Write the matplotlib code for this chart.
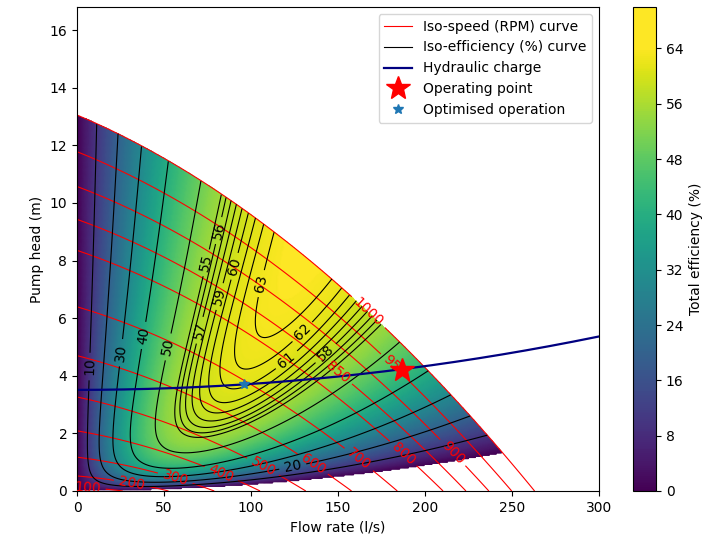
import numpy as np
import matplotlib.pyplot as plt
from matplotlib.colors import ListedColormap
from matplotlib.lines import Line2D

# pump curve H = a0*N^2 + a1*N*Q + a2*Q^2  (Q in l/s, N in rpm)
a0 = 1.305e-5
a1 = -2.539e-5
a2 = -9.215e-5
n_max = 1000

# hydraulic charge H = h_static + k_sys*Q^2
h_static = 3.51
k_sys = 2.06e-5

# efficiency map parameters
eta_peak = 64.2     # % at full speed, best flow
q_zero = 244.7      # l/s per 1000 rpm where pump efficiency drops to 0
q_skew = 845.0
motor_c = 0.022
cbar_max = 70

speed_levels = [100, 200, 300, 400, 500, 600, 700, 800, 850, 900, 950, 1000]
eff_levels = [10, 20, 30, 40, 50, 55, 56, 57, 58, 59, 60, 61, 62, 63]

op_point = (187, 4.21)
opt_point = (96, 3.72)

# where each contour label sits (Q, H)
speed_label_pos = {100: (6, 0.2), 200: (32, 0.38), 300: (57, 0.5), 400: (83, 0.63),
                   500: (107, 0.83), 600: (136, 0.97), 700: (163, 1.18), 800: (188, 1.32),
                   850: (150, 4.1), 900: (219, 1.5), 950: (186, 4.55), 1000: (170, 6.4)}
eff_label_pos = {10: (8.6, 4.3), 20: (124, 0.83), 30: (25, 4.8), 40: (39, 5.4), 50: (52, 5.0),
                 55: (75, 7.9), 56: (83, 9.0), 57: (69.5, 5.6), 58: (148, 4.45), 59: (81, 6.75),
                 60: (91, 7.8), 61: (122, 4.45), 62: (134, 5.25), 63: (107, 7.2)}


def snap(cs, levels, wanted):
    # put each wanted label exactly on its own level's line
    pts = []
    for i, lvl in enumerate(levels):
        if lvl not in wanted:
            continue
        segs = [s for s in cs.allsegs[i] if len(s)]
        if not segs:
            continue
        v = np.vstack(segs)
        q0, h0 = wanted[lvl]
        d = ((v[:, 0] - q0) / 300 * 522) ** 2 + ((v[:, 1] - h0) / 16.8 * 484) ** 2
        pts.append(tuple(v[np.argmin(d)]))
    return pts


# grid
Q = np.linspace(0, 300, 601)
H = np.linspace(0, 16.8, 421)
QQ, HH = np.meshgrid(Q, H)

disc = (a1 * QQ) ** 2 - 4 * a0 * (a2 * QQ ** 2 - HH)
NN = (-a1 * QQ + np.sqrt(disc)) / (2 * a0)

with np.errstate(divide='ignore', invalid='ignore'):
    x = QQ / (NN / 1000.0)
    f = x * (q_zero - x) * (x + q_skew)
    xs = np.linspace(0, q_zero, 2000)
    fmax = np.max(xs * (q_zero - xs) * (xs + q_skew))
    load = (NN / n_max) ** 3
    g = load * (1 + motor_c) / (load + motor_c)
    eff = eta_peak * f / fmax * g

eff = np.where((NN > n_max + 0.5) | ~(eff > 0), np.nan, eff)
eff_m = np.ma.masked_invalid(eff)

# viridis over 0..max of the map, flat yellow above it
cmap = ListedColormap(plt.cm.viridis(np.clip(np.linspace(0, cbar_max, 256) / eta_peak, 0, 1)))

fig = plt.figure(figsize=(7.17, 5.54), dpi=100)
ax = fig.add_axes([77 / 717, 63 / 554, 522 / 717, 484 / 554])
cax = fig.add_axes([633 / 717, 63 / 554, 23 / 717, 484 / 554])

mesh = ax.pcolormesh(Q, H, eff_m, cmap=cmap, shading='gouraud', vmin=0, vmax=cbar_max)

cs_n = ax.contour(QQ, HH, NN, levels=speed_levels, colors='red', linewidths=0.8)
ax.clabel(cs_n, fontsize=10, inline=True, manual=snap(cs_n, speed_levels, speed_label_pos))

cs_e = ax.contour(QQ, HH, eff_m, levels=eff_levels, colors='black', linewidths=0.8)
ax.clabel(cs_e, fontsize=10, inline=True, manual=snap(cs_e, eff_levels, eff_label_pos))

qs = np.linspace(0, 300, 200)
ax.plot(qs, h_static + k_sys * qs ** 2, color='navy', lw=1.6)
ax.plot(op_point[0], op_point[1], '*', color='red', ms=18)
ax.plot(opt_point[0], opt_point[1], '*', color='C0', ms=7)

ax.set_xlim(0, 300)
ax.set_ylim(0, 16.8)
ax.set_xlabel('Flow rate (l/s)')
ax.set_ylabel('Pump head (m)')

handles = [
    Line2D([], [], color='red', lw=0.8),
    Line2D([], [], color='black', lw=0.8),
    Line2D([], [], color='navy', lw=1.6),
    Line2D([], [], color='red', marker='*', ls='', ms=18),
    Line2D([], [], color='C0', marker='*', ls='', ms=7),
]
labels = ['Iso-speed (RPM) curve', 'Iso-efficiency (%) curve', 'Hydraulic charge',
          'Operating point', 'Optimised operation']
ax.legend(handles, labels, loc='upper right')

cb = fig.colorbar(mesh, cax=cax, ticks=np.arange(0, 65, 8))
cb.set_label('Total efficiency (%)')

fig.savefig('out.png', dpi=100)
